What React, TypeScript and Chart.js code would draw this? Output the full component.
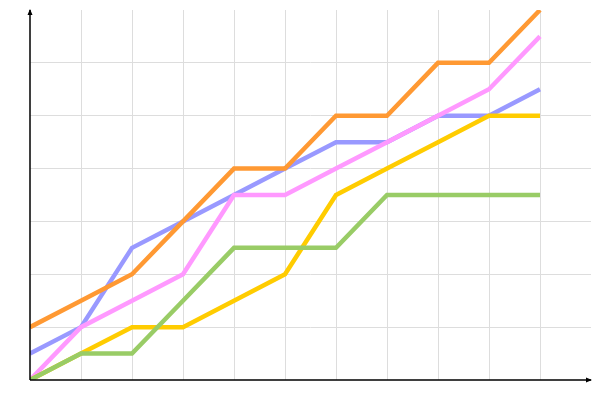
import React, { useEffect, useRef } from "react";
import { Chart, registerables } from "chart.js";

Chart.register(...registerables);

const xValues = [0, 1, 2, 3, 4, 5, 6, 7, 8, 9, 10];
const orangeSeries = [1, 1.5, 2, 3, 4, 4, 5, 5, 6, 6, 7];
const blueSeries = [0.5, 1, 2.5, 3, 3.5, 4, 4.5, 4.5, 5, 5, 5.5];
const pinkSeries = [0, 1, 1.5, 2, 3.5, 3.5, 4, 4.5, 5, 5.5, 6.5];
const yellowSeries = [0, 0.5, 1, 1, 1.5, 2, 3.5, 4, 4.5, 5, 5];
const greenSeries = [0, 0.5, 0.5, 1.5, 2.5, 2.5, 2.5, 3.5, 3.5, 3.5, 3.5];

const toPoints = (ys: number[]) => ys.map((y, i) => ({ x: xValues[i], y }));

const axesPlugin = {
  id: "arrowAxes",
  afterDatasetsDraw(chart: any) {
    const { ctx, chartArea } = chart;
    const { left, right, top, bottom } = chartArea;
    ctx.save();
    ctx.strokeStyle = "#000";
    ctx.fillStyle = "#000";
    ctx.lineWidth = 1.5;
    ctx.beginPath();
    ctx.moveTo(left, bottom);
    ctx.lineTo(right, bottom);
    ctx.moveTo(left, bottom);
    ctx.lineTo(left, top);
    ctx.stroke();
    // x arrow
    ctx.beginPath();
    ctx.moveTo(right + 1, bottom);
    ctx.lineTo(right - 5, bottom - 2.5);
    ctx.lineTo(right - 5, bottom + 2.5);
    ctx.closePath();
    ctx.fill();
    // y arrow
    ctx.beginPath();
    ctx.moveTo(left, top - 1);
    ctx.lineTo(left - 2.5, top + 5);
    ctx.lineTo(left + 2.5, top + 5);
    ctx.closePath();
    ctx.fill();
    ctx.restore();
  },
};

export default function App() {
  const ref = useRef<HTMLCanvasElement>(null);
  useEffect(() => {
    if (!ref.current) return;
    const mk = (label: string, data: number[], color: string, order: number) => ({
      label,
      data: toPoints(data),
      borderColor: color,
      backgroundColor: color,
      borderWidth: 4.5,
      pointRadius: 0,
      fill: false,
      tension: 0,
      order,
    });
    const chart = new Chart(ref.current, {
      type: "line",
      data: {
        datasets: [
          mk("yellow", yellowSeries, "#ffcc00", 1),
          mk("pink", pinkSeries, "#ff99ff", 2),
          mk("orange", orangeSeries, "#ff9933", 3),
          mk("blue", blueSeries, "#9999ff", 4),
          mk("green", greenSeries, "#99cc66", 0),
        ],
      },
      options: {
        animation: false,
        responsive: true,
        maintainAspectRatio: false,
        layout: { padding: { left: 30, right: 9, top: 10, bottom: 20 } },
        plugins: { legend: { display: false }, tooltip: { enabled: false } },
        scales: {
          x: {
            type: "linear",
            min: 0,
            max: 11,
            ticks: { display: false, stepSize: 1 },
            border: { display: false },
            grid: {
              color: (c: any) =>
                c.tick && (c.tick.value === 0 || c.tick.value === 11) ? "rgba(0,0,0,0)" : "#dddddd",
              lineWidth: 1,
              drawTicks: false,
            },
          },
          y: {
            type: "linear",
            min: 0,
            max: 7,
            ticks: { display: false, stepSize: 1 },
            border: { display: false },
            grid: {
              color: (c: any) =>
                c.tick && (c.tick.value === 0 || c.tick.value === 7) ? "rgba(0,0,0,0)" : "#dddddd",
              lineWidth: 1,
              drawTicks: false,
            },
          },
        },
      },
      plugins: [axesPlugin],
    });
    return () => chart.destroy();
  }, []);
  return (
    <div style={{ position: "fixed", left: 0, top: 0, width: 600, height: 400, background: "#fff" }}>
      <canvas ref={ref} />
    </div>
  );
}
